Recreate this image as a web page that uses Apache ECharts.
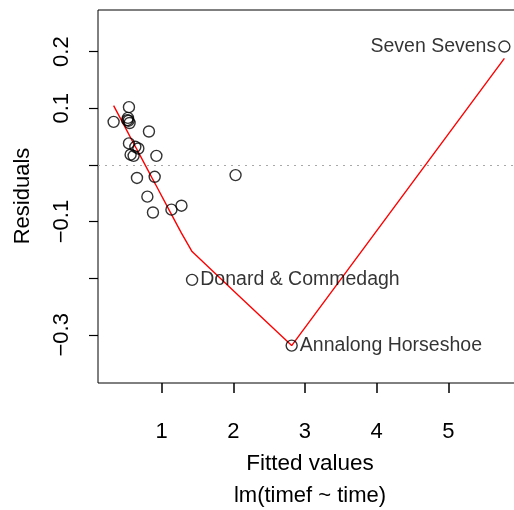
<!DOCTYPE html>
<html>
<head>
<meta charset="utf-8">
<script src="https://cdn.jsdelivr.net/npm/echarts@6/dist/echarts.min.js"></script>
<style>
html,body{margin:0;padding:0;background:#fff;overflow:hidden;width:514px;height:510px;}
#chart{width:540px;height:510px;}
</style>
</head>
<body>
<div id="chart"></div>
<script>
// Fitted values and residuals (23 races)
const fittedX = [0.543, 0.329, 0.529, 0.538, 0.552, 0.520, 0.822, 0.543, 0.632, 0.674, 0.608, 0.566, 0.926, 0.655, 0.902, 2.031, 0.800, 0.878, 1.136, 1.276, 1.424, 2.814, 5.783];
const residY  = [0.102, 0.076, 0.083, 0.078, 0.074, 0.079, 0.059, 0.038, 0.032, 0.029, 0.016, 0.018, 0.016, -0.023, -0.021, -0.018, -0.056, -0.084, -0.079, -0.072, -0.203, -0.319, 0.209];
const pointNames = ['', '', '', '', '', '', '', '', '', '', '', '', '', '', '', '', '', '', '', '', 'Donard & Commedagh', 'Annalong Horseshoe', 'Seven Sevens'];
// smoother line
const smoothX = [0.329, 0.520, 0.529, 0.538, 0.543, 0.552, 0.566, 0.608, 0.632, 0.655, 0.674, 0.800, 0.822, 0.878, 0.902, 0.926, 1.136, 1.276, 1.424, 2.031, 2.814, 5.783];
const smoothY = [0.1046, 0.0591, 0.0572, 0.0547, 0.0537, 0.0513, 0.0480, 0.0379, 0.0324, 0.0272, 0.0226, -0.0074, -0.0127, -0.0261, -0.0316, -0.0372, -0.0872, -0.1203, -0.153, -0.2255, -0.319, 0.188];
// ticks
const xTicks = [1, 2, 3, 4, 5];
const yTicks = [-0.3, -0.2, -0.1, 0, 0.1, 0.2];
const yTickLabels = [-0.3, -0.1, 0.1, 0.2];
const xRange = [0.111, 6.001];
const yRange = [-0.385, 0.2735];

const FONT = '"Liberation Sans", Arial, Helvetica, sans-serif';
const chart = echarts.init(document.getElementById('chart'), null, {renderer: 'canvas'});

const pts = fittedX.map((x, i) => {
  const item = {value: [x, residY[i]]};
  if (pointNames[i]) {
    item.label = {
      show: true,
      formatter: pointNames[i],
      position: x > 3 ? 'left' : 'right',
      distance: 2,
      color: '#000',
      fontSize: 19.5,
      fontFamily: FONT
    };
  }
  return item;
});

chart.setOption({
  animation: false,
  backgroundColor: '#fff',
  grid: {left: 98, top: 10, width: 422, height: 373, show: true, borderColor: '#000', borderWidth: 1, backgroundColor: 'transparent'},
  xAxis: {
    type: 'value', min: xRange[0], max: xRange[1], position: 'bottom',
    splitLine: {show: false},
    axisLine: {show: false, onZero: false},
    axisTick: {show: true, customValues: xTicks, length: 10, inside: false, lineStyle: {color: '#000', width: 1.5}},
    axisLabel: {customValues: xTicks, color: '#000', fontSize: 22, fontFamily: FONT, margin: 38}
  },
  yAxis: {
    type: 'value', min: yRange[0], max: yRange[1], position: 'left',
    splitLine: {show: false},
    axisLine: {show: false, onZero: false},
    axisTick: {show: true, customValues: yTicks, length: 9, inside: false, lineStyle: {color: '#000', width: 1.2}},
    axisLabel: {
      customValues: yTickLabels, rotate: 90, color: '#000', fontSize: 22, fontFamily: FONT, margin: 25,
      formatter: v => (v < 0 ? '\u2212' : '') + Math.abs(v).toFixed(1)
    }
  },
  graphic: [
    {type: 'text', x: 23, y: 196, rotation: Math.PI / 2, style: {text: 'Residuals', fontSize: 22, fontFamily: FONT, fill: '#000', textAlign: 'center', textVerticalAlign: 'middle'}},
    {type: 'text', x: 310, y: 464, style: {text: 'Fitted values', fontSize: 22.5, fontFamily: FONT, fill: '#000', textAlign: 'center', textVerticalAlign: 'middle'}},
    {type: 'text', x: 310, y: 496, style: {text: 'lm(timef ~ time)', fontSize: 22, fontFamily: FONT, fill: '#000', textAlign: 'center', textVerticalAlign: 'middle'}}
  ],
  series: [
    {
      type: 'line',
      data: smoothX.map((x, i) => [x, smoothY[i]]),
      showSymbol: false,
      symbol: 'none',
      lineStyle: {color: '#ff0000', width: 1.4},
      z: 3,
      markLine: {
        silent: true, symbol: 'none', label: {show: false},
        lineStyle: {color: '#a8a8a8', type: [2, 5], width: 1.2},
        data: [{yAxis: 0}]
      }
    },
    {
      type: 'scatter',
      data: pts,
      symbol: 'circle',
      symbolSize: 11,
      itemStyle: {color: 'rgba(0,0,0,0)', borderColor: '#000', borderWidth: 1.4},
      z: 4
    }
  ]
});
</script>
</body>
</html>
